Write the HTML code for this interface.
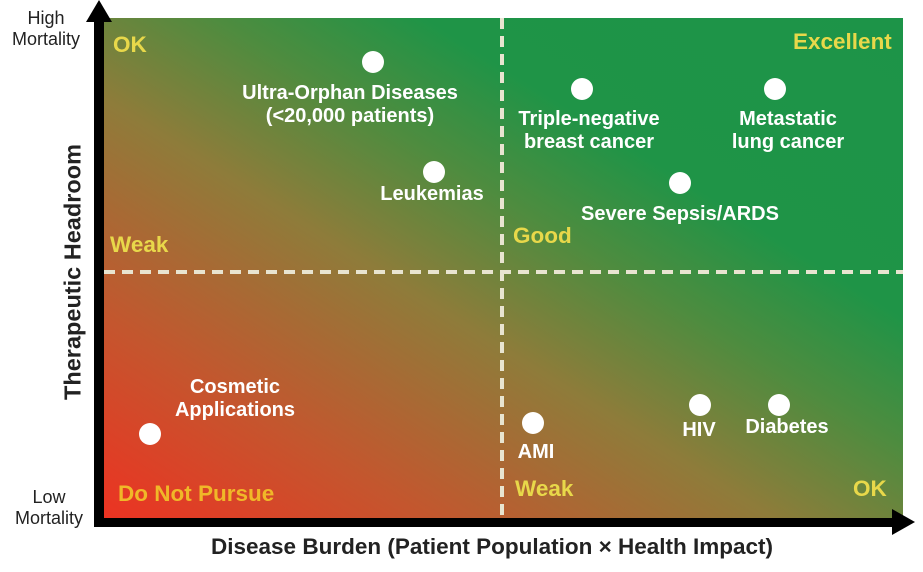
<!DOCTYPE html>
<html><head><meta charset="utf-8"><style>
body{margin:0;width:923px;height:572px;background:#fff;overflow:hidden;position:relative;font-family:"Liberation Sans",sans-serif}
.plot{position:absolute;left:104px;top:18px;width:799px;height:500px;
background:linear-gradient(to top right,#ec3322 0%,#c4562e 20%,#8e7c3a 42%,#4e8c3f 57%,#1f9447 70%,#1d9448 100%)}
.t{position:absolute;color:#fff;font-weight:bold;font-size:20px;text-align:center;line-height:23px;white-space:nowrap;transform:translateX(-50%)}
.y{position:absolute;color:#e8d84a;font-weight:bold;font-size:22.5px;white-space:nowrap}
.d{position:absolute;width:22px;height:22px;border-radius:50%;background:#fff;transform:translate(-50%,-50%)}
.ax{position:absolute;color:#222;font-size:18px;text-align:center;line-height:21px}
</style></head><body>
<div class="plot"></div>
<svg style="position:absolute;left:0;top:0" width="923" height="572">
<line x1="502" y1="18" x2="502" y2="518" stroke="#e8e4d0" stroke-width="4" stroke-dasharray="11,7"/>
<line x1="104" y1="272" x2="903" y2="272" stroke="#e8e4d0" stroke-width="4" stroke-dasharray="11,7"/>
<rect x="94" y="14" width="10" height="513" fill="#000"/>
<polygon points="99,0 86,22 112,22" fill="#000"/>
<rect x="94" y="518" width="800" height="9" fill="#000"/>
<polygon points="915,522 892,509 892,535" fill="#000"/>
</svg>
<div class="y" style="left:113px;top:32px">OK</div>
<div class="y" style="left:793px;top:29px">Excellent</div>
<div class="y" style="left:110px;top:232px">Weak</div>
<div class="y" style="left:513px;top:223px">Good</div>
<div class="y" style="left:118px;top:481px;color:#f0b828">Do Not Pursue</div>
<div class="y" style="left:515px;top:476px">Weak</div>
<div class="y" style="left:853px;top:476px">OK</div>
<div class="d" style="left:373px;top:62px"></div>
<div class="t" style="left:350px;top:82px">Ultra-Orphan Diseases<br>(&lt;20,000 patients)</div>
<div class="d" style="left:434px;top:172px"></div>
<div class="t" style="left:432px;top:183px">Leukemias</div>
<div class="d" style="left:582px;top:89px"></div>
<div class="t" style="left:589px;top:108px">Triple-negative<br>breast cancer</div>
<div class="d" style="left:775px;top:89px"></div>
<div class="t" style="left:788px;top:108px">Metastatic<br>lung cancer</div>
<div class="d" style="left:680px;top:183px"></div>
<div class="t" style="left:680px;top:203px">Severe Sepsis/ARDS</div>
<div class="d" style="left:150px;top:434px"></div>
<div class="t" style="left:235px;top:376px">Cosmetic<br>Applications</div>
<div class="d" style="left:533px;top:423px"></div>
<div class="t" style="left:536px;top:441px">AMI</div>
<div class="d" style="left:700px;top:405px"></div>
<div class="t" style="left:699px;top:419px">HIV</div>
<div class="d" style="left:779px;top:405px"></div>
<div class="t" style="left:787px;top:416px">Diabetes</div>
<div class="ax" style="left:0;top:8px;width:92px">High<br>Mortality</div>
<div class="ax" style="left:0;top:487px;width:98px">Low<br>Mortality</div>
<div style="position:absolute;left:73px;top:272px;transform:translate(-50%,-50%) rotate(-90deg);font-size:23.5px;font-weight:bold;color:#222;white-space:nowrap">Therapeutic Headroom</div>
<div style="position:absolute;left:492px;top:534px;transform:translateX(-50%);font-size:22.5px;font-weight:bold;color:#222;white-space:nowrap">Disease Burden (Patient Population × Health Impact)</div>
</body></html>
